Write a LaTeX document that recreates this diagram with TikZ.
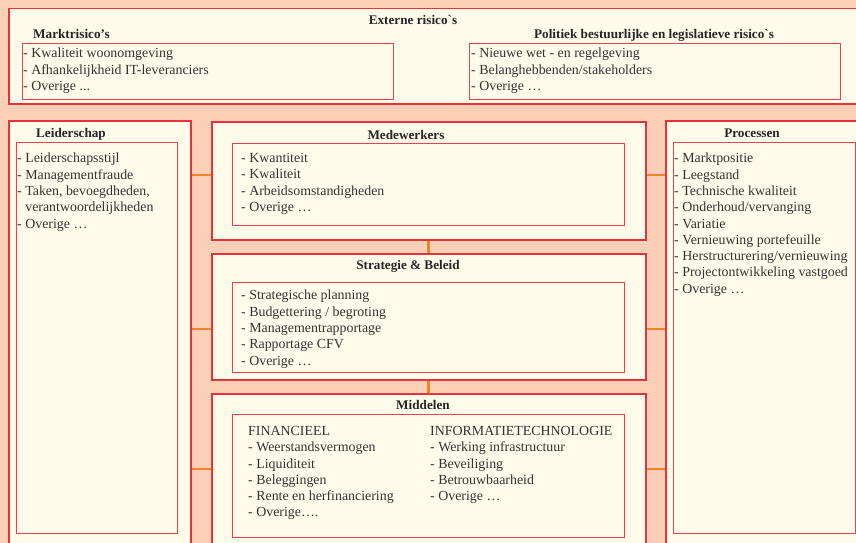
\documentclass[tikz,border=0pt]{standalone}
\usepackage{fontspec}
\setmainfont{Liberation Serif}
\definecolor{peach}{HTML}{FBD0B7}
\definecolor{cream}{HTML}{FFFBEA}
\definecolor{bred}{HTML}{E6323A}
\definecolor{lred}{HTML}{E8414A}
\definecolor{conn}{HTML}{F08228}
\tikzset{
  outerbox/.style={draw=bred, fill=cream, line width=1.5pt, inner sep=0pt, anchor=north west},
  innerbox/.style={draw=lred, fill=cream, line width=1.3pt, inner sep=0pt, anchor=north west},
  ttl/.style={font=\fontsize{13.2}{15}\selectfont\bfseries, inner sep=0pt, anchor=base, text=black!85},
  items/.style={font=\fontsize{13.9}{16.3}\selectfont, align=left, inner sep=0pt, anchor=north west, text=black!80},
  link/.style={draw=conn, line width=2.8pt}
}
\begin{document}
\begin{tikzpicture}[x=1pt,y=-1pt]
\useasboundingbox (0,0) rectangle (856,543);
\clip (0,0) rectangle (856,543);
\fill[peach] (0,0) rectangle (856,543);

% external
\node[outerbox, minimum width=870pt, minimum height=95pt] (ext) at (8,8) {};
\node[innerbox, minimum width=371pt, minimum height=56pt] (mri) at (22,43) {};
\node[innerbox, minimum width=371pt, minimum height=56pt] (poli) at (469,43) {};
\node[ttl] (extt) at (413,25) {Externe risico\textasciigrave s};
\node[ttl, anchor=base west] (mrt) at (33,38) {Marktrisico’s};
\node[ttl] (polt) at (654,39) {Politiek bestuurlijke en legislatieve risico\textasciigrave s};
\node[items] (mrl) at (23,48) {- Kwaliteit woonomgeving\\- Afhankelijkheid IT-leveranciers\\- Overige ...};
\node[items] (poll) at (471,48) {- Nieuwe wet - en regelgeving\\- Belanghebbenden/stakeholders\\- Overige …};

% outer boxes
\node[outerbox, minimum width=182pt, minimum height=440pt] (ld) at (8,120) {};
\node[outerbox, minimum width=434pt, minimum height=118pt] (med) at (211,121) {};
\node[outerbox, minimum width=434pt, minimum height=126pt] (str) at (211,253) {};
\node[outerbox, minimum width=434pt, minimum height=170pt] (mid) at (211,393) {};
\node[outerbox, minimum width=210pt, minimum height=440pt] (pr) at (665,120) {};

% connectors
\coordinate (h1) at (0,175);
\coordinate (h2) at (0,329);
\coordinate (h3) at (0,469);
\draw[link] (ld.east |- h1) -- (med.west |- h1);
\draw[link] (ld.east |- h2) -- (str.west |- h2);
\draw[link] (ld.east |- h3) -- (mid.west |- h3);
\draw[link] (med.east |- h1) -- (pr.west |- h1);
\draw[link] (str.east |- h2) -- (pr.west |- h2);
\draw[link] (mid.east |- h3) -- (pr.west |- h3);
\draw[link] (med.south) -- (str.north);
\draw[link] (str.south) -- (mid.north);

% inner boxes
\node[innerbox, minimum width=161pt, minimum height=391pt] (ldi) at (16,142) {};
\node[innerbox, minimum width=392pt, minimum height=82pt] (medi) at (232,143) {};
\node[innerbox, minimum width=392pt, minimum height=90pt] (stri) at (232,282) {};
\node[innerbox, minimum width=392pt, minimum height=123pt] (midi) at (232,414) {};
\node[innerbox, minimum width=182pt, minimum height=391pt] (pri) at (673,142) {};

% titles
\node[ttl] (ldt) at (71,137) {Leiderschap};
\node[ttl] (medt) at (406,139) {Medewerkers};
\node[ttl] (strt) at (408,269) {Strategie \& Beleid};
\node[ttl] (midt) at (423,409) {Middelen};
\node[ttl] (prt) at (752,137) {Processen};

% lists
\node[items] (ldl) at (17,153) {- Leiderschapsstijl\\- Managementfraude\\- Taken, bevoegdheden,\\\hphantom{- }verantwoordelijkheden\\- Overige …};
\node[items] (medl) at (241,153) {- Kwantiteit\\- Kwaliteit\\- Arbeidsomstandigheden\\- Overige …};
\node[items] (strl) at (241,290) {- Strategische planning\\- Budgettering / begroting\\- Managementrapportage\\- Rapportage CFV\\- Overige …};
\node[items] (finl) at (248,426) {FINANCIEEL\\- Weerstandsvermogen\\- Liquiditeit\\- Beleggingen\\- Rente en herfinanciering\\- Overige….};
\node[items] (itl) at (430,426) {INFORMATIETECHNOLOGIE\\- Werking infrastructuur\\- Beveiliging\\- Betrouwbaarheid\\- Overige …};
\node[items] (prl) at (674,153) {- Marktpositie\\- Leegstand\\- Technische kwaliteit\\- Onderhoud/vervanging\\- Variatie\\- Vernieuwing portefeuille\\- Herstructurering/vernieuwing\\- Projectontwikkeling vastgoed\\- Overige …};
\end{tikzpicture}
\end{document}
